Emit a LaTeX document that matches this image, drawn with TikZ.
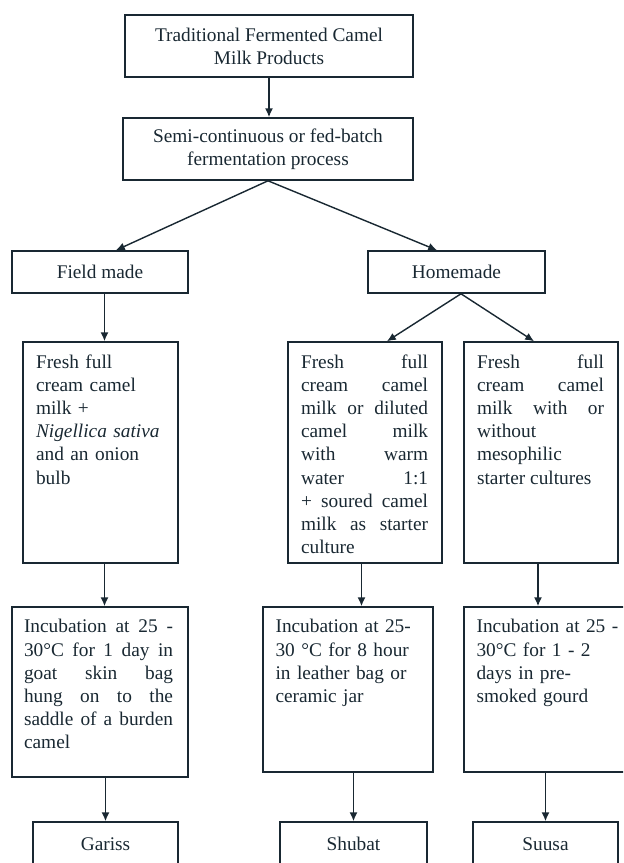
\documentclass[tikz,border=0pt]{standalone}
\usepackage{fontspec}
\setmainfont{Liberation Serif}
\usepackage{tikz}
\usetikzlibrary{
    arrows.meta,
    calc
}
\definecolor{ink}{RGB}{25,40,50}

\begin{document}
\begin{tikzpicture}[
    font=\fontsize{11}{13.2}\selectfont,
    box/.style={draw=ink, line width=0.9pt, text=ink, inner sep=0pt, align=center},
    txt/.style={text=ink, anchor=north west, inner xsep=0.27cm, inner ysep=0.26cm},
    arr/.style={draw=ink, line width=0.8pt, -{Latex[length=5pt,width=4.5pt]}}
]

% Frame
\useasboundingbox (0,0) rectangle (12.46,-17.26);
\clip (0,0) rectangle (12.46,-17.26);

% Top levels
\node[box, minimum width=5.76cm, minimum height=1.24cm] (top) at (5.38,-0.92)
    {Traditional Fermented Camel\\Milk Products};
\node[box, minimum width=5.80cm, minimum height=1.24cm] (proc) at (5.36,-2.98)
    {Semi-continuous or fed-batch\\fermentation process};

% Field made / Homemade
\node[box, minimum width=3.52cm, minimum height=0.84cm] (field) at (2.00,-5.44) {Field made};
\node[box, minimum width=3.54cm, minimum height=0.84cm] (home) at (9.13,-5.44) {Homemade};

% Raw milk
\node[box, minimum width=3.10cm, minimum height=4.42cm] (freshF) at (2.01,-9.05) {};
\node[txt, text width=2.56cm, align=left] (freshFt) at (freshF.north west)
    {Fresh full\\cream camel\\milk +\\\textit{Nigellica sativa}\\and an onion\\bulb};

\node[box, minimum width=3.08cm, minimum height=4.42cm] (freshA) at (7.30,-9.05) {};
\node[txt, text width=2.54cm, align=justify] (freshAt) at (freshA.north west)
    {Fresh full\linebreak cream camel\linebreak milk or diluted\linebreak camel milk\linebreak
     with warm\linebreak water 1:1\linebreak + soured camel\linebreak milk as starter\linebreak culture};

\node[box, minimum width=3.08cm, minimum height=4.42cm] (freshB) at (10.82,-9.05) {};
\node[txt, text width=2.54cm, align=justify] (freshBt) at (freshB.north west)
    {Fresh full\linebreak cream camel\linebreak milk with or\linebreak without\linebreak
     mesophilic\linebreak starter cultures};

% Incubation
\node[box, minimum width=3.52cm, minimum height=3.40cm] (incF) at (2.00,-13.84) {};
\node[txt, text width=2.98cm, inner xsep=0.25cm, align=justify] (incFt) at (incF.north west)
    {Incubation at 25 -\linebreak 30°C for 1 day in\linebreak goat skin bag\linebreak
     hung on to the\linebreak saddle of a burden\linebreak camel};

\node[box, minimum width=3.40cm, minimum height=3.30cm] (incA) at (6.96,-13.79) {};
\node[txt, text width=2.90cm, inner xsep=0.26cm, align=left] (incAt) at (incA.north west)
    {Incubation at 25-\\30 °C for 8 hour\\in leather bag or\\ceramic jar};

\node[box, minimum width=3.52cm, minimum height=3.30cm] (incB) at (11.04,-13.79) {};
\node[txt, text width=2.90cm, inner xsep=0.26cm, align=left] (incBt) at (incB.north west)
    {Incubation at 25 -\\30°C for 1 - 2\\days in pre-\\smoked gourd};

% Products
\node[box, minimum width=2.90cm, minimum height=0.88cm] (gariss) at (2.11,-16.88) {Gariss};
\node[box, minimum width=2.94cm, minimum height=0.88cm] (shubat) at (7.07,-16.88) {Shubat};
\node[box, minimum width=2.90cm, minimum height=0.88cm] (suusa) at (10.91,-16.88) {Suusa};

% Arrows
\draw[arr] (top.south) -- (top.south |- proc.north);
\draw[arr] (proc.south) -- ([xshift=0.32cm]field.north);
\draw[arr] (proc.south) -- ([xshift=-0.39cm]home.north);

\draw[arr] ([xshift=0.09cm]field.south) -- ([xshift=0.09cm]field.south |- freshF.north);
\draw[arr] ([xshift=0.09cm]home.south) -- ([xshift=0.44cm]freshA.north);
\draw[arr] ([xshift=0.09cm]home.south) -- ([xshift=-0.14cm]freshB.north);

\draw[arr] ([xshift=0.08cm]freshF.south) -- ([xshift=0.08cm]freshF.south |- incF.north);
\draw[arr] ([xshift=-0.07cm]freshA.south) -- ([xshift=-0.07cm]freshA.south |- incA.north);
\draw[arr] ([xshift=-0.06cm]freshB.south) -- ([xshift=-0.06cm]freshB.south |- incB.north);

\draw[arr] (gariss.north |- incF.south) -- (gariss.north);
\draw[arr] (shubat.north |- incA.south) -- (shubat.north);
\draw[arr] (suusa.north |- incB.south) -- (suusa.north);

\end{tikzpicture}
\end{document}
